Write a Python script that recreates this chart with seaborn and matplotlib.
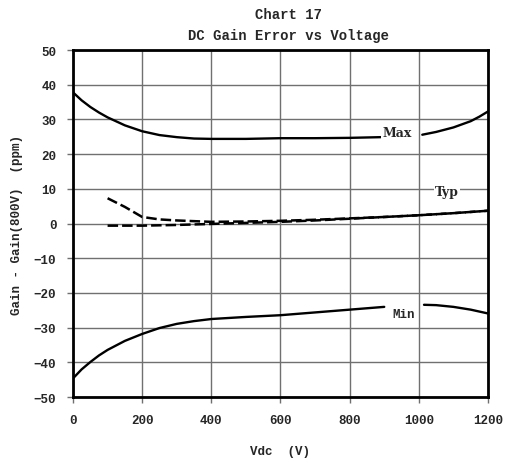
import pandas as pd
import matplotlib
matplotlib.use("Agg")
import matplotlib.pyplot as plt
import seaborn as sns

# values (ppm vs Vdc)
max_v = [0, 25, 50, 75, 100, 150, 200, 250, 300, 350, 400, 500, 600, 700, 800, 890]
max_g = [37.8, 35.5, 33.6, 32.0, 30.6, 28.3, 26.6, 25.5, 24.9, 24.5, 24.4, 24.4, 24.6, 24.6, 24.7, 24.9]
max_v2 = [1010, 1050, 1100, 1150, 1175, 1200]
max_g2 = [25.6, 26.4, 27.7, 29.5, 30.8, 32.3]

min_v = [0, 25, 50, 75, 100, 150, 200, 250, 300, 350, 400, 500, 600, 700, 800, 900]
min_g = [-44.6, -42.0, -39.9, -38.0, -36.4, -33.8, -31.8, -30.1, -28.9, -28.1, -27.5,
         -26.9, -26.4, -25.6, -24.8, -24.0]
min_v2 = [1015, 1050, 1100, 1150, 1200]
min_g2 = [-23.4, -23.5, -24.0, -24.8, -25.9]

typ_v = [100, 150, 200, 250, 300, 400, 500, 600, 700, 800, 900, 1000, 1100, 1200]
typ_hi = [7.3, 4.8, 1.9, 1.2, 0.9, 0.5, 0.6, 0.8, 1.1, 1.5, 1.9, 2.4, 3.0, 3.7]
typ_lo = [-0.6, -0.6, -0.6, -0.5, -0.4, -0.1, 0.2, 0.5, 0.9, 1.4, 1.9, 2.4, 3.0, 3.7]

x_ticks = [0, 200, 400, 600, 800, 1000, 1200]
y_ticks = [50, 40, 30, 20, 10, 0, -10, -20, -30, -40, -50]

sns.set_theme(style="white")
plt.rcParams['font.family'] = ['Liberation Mono', 'DejaVu Sans']
plt.rcParams['font.weight'] = 'bold'

fig = plt.figure(figsize=(5.07, 4.64), dpi=100)
ax = fig.add_axes([0.144, 0.142, 0.8185, 0.748])

solid = dict(color="black", linewidth=1.7, ax=ax, legend=False)
sns.lineplot(x=max_v, y=max_g, **solid)
sns.lineplot(x=max_v2, y=max_g2, **solid)
sns.lineplot(x=min_v, y=min_g, **solid)
sns.lineplot(x=min_v2, y=min_g2, **solid)
for ys in (typ_hi, typ_lo):
    ln = sns.lineplot(x=typ_v, y=ys, color="black", linewidth=1.8, ax=ax, legend=False)
    ln.lines[-1].set_dashes([4.2, 1.6])

ax.set_xlim(0, 1200)
ax.set_ylim(-50, 50)
ax.set_xticks(x_ticks)
ax.set_yticks(y_ticks)
ax.grid(True, color="#707070", linewidth=1)
ax.set_axisbelow(True)
for s in ax.spines.values():
    s.set_color("black")
    s.set_linewidth(2)
ax.tick_params(axis="both", which="both", direction="out", length=4, width=1,
               color="#707070", labelsize=9, pad=8, bottom=True, left=True)
for lab in ax.get_xticklabels() + ax.get_yticklabels():
    lab.set_fontweight("bold")

ax.set_xlabel("Vdc  (V)", fontsize=9, fontweight="bold", labelpad=14)
ax.set_ylabel("Gain - Gain(800V)  (ppm)", fontsize=9, fontweight="bold", labelpad=8)

fig.text(0.57, 0.967, "Chart 17", ha="center", va="center", fontsize=10, fontweight="bold")
fig.text(0.57, 0.922, "DC Gain Error vs Voltage", ha="center", va="center", fontsize=10, fontweight="bold")

box = dict(facecolor="white", edgecolor="none", pad=1)
ax.text(937, 26.1, "Max", ha="center", va="center", fontsize=9, fontweight="bold",
        family="DejaVu Serif", bbox=box)
ax.text(1081, 9.2, "Typ", ha="center", va="center", fontsize=9, fontweight="bold",
        family="DejaVu Serif", bbox=box)
ax.text(957, -26.1, "Min", ha="center", va="center", fontsize=9, fontweight="bold", bbox=box)

fig.savefig("out.png", dpi=100, facecolor="white")
